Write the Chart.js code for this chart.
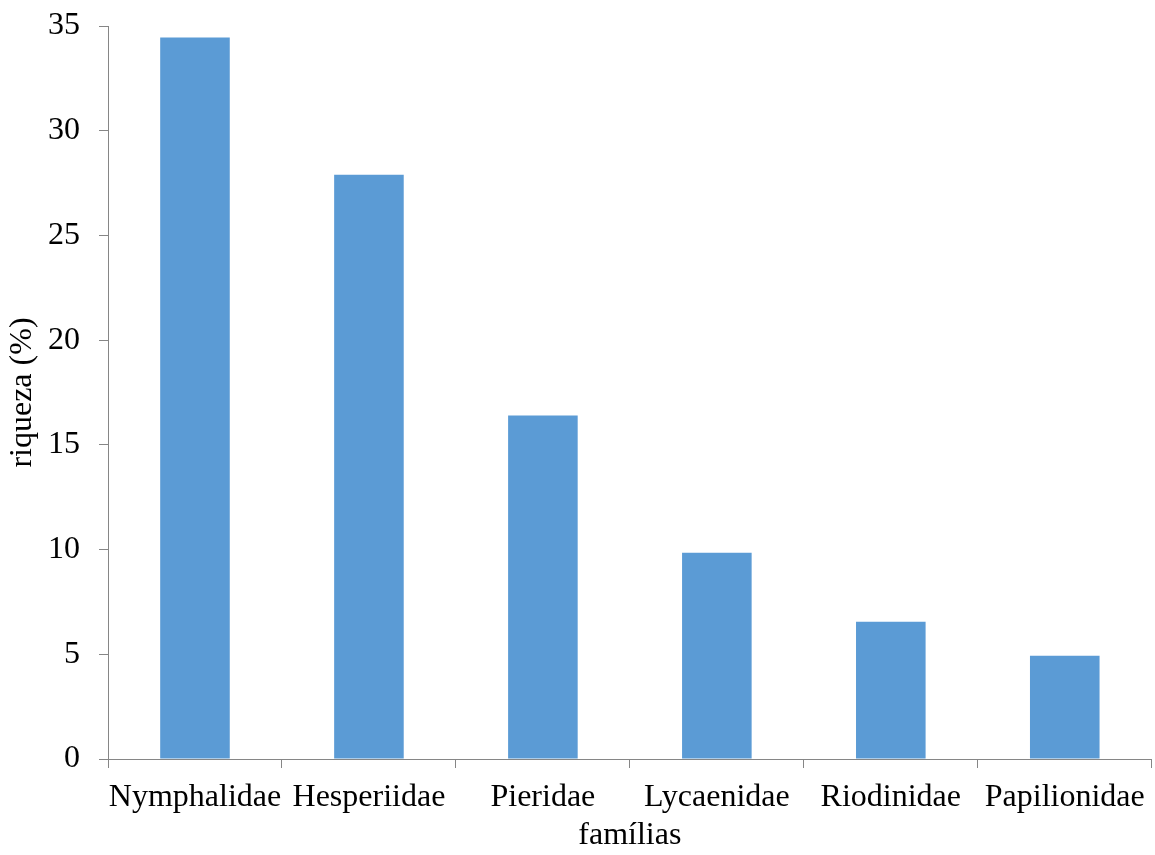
<!DOCTYPE html>
<html>
<head>
<meta charset="utf-8">
<script src="https://cdn.jsdelivr.net/npm/chart.js@4/dist/chart.umd.min.js"></script>
<style>
  html, body { margin: 0; padding: 0; background: #fff; }
  #wrap { width: 1155px; height: 855px; }
</style>
</head>
<body>
<div id="wrap"><canvas id="chartFamilias"></canvas></div>
<script>
// riqueza (%) por família de borboletas
const familias = ['Nymphalidae', 'Hesperiidae', 'Pieridae', 'Lycaenidae', 'Riodinidae', 'Papilionidae'];
const riqueza = [34.45, 27.9, 16.4, 9.85, 6.55, 4.93];
const yTicks = [0, 5, 10, 15, 20, 25, 30, 35];

const fonte = { family: '"Liberation Serif", "Times New Roman", serif', size: 32 };
const cinzaEixo = '#868686';

const ctx = document.getElementById('chartFamilias');
window._familiasChart = new Chart(ctx, {
  type: 'bar',
  data: {
    labels: familias,
    datasets: [{
      data: riqueza,
      backgroundColor: '#5b9bd5',
      borderWidth: 0,
      categoryPercentage: 0.4,
      barPercentage: 1,
    }],
  },
  options: {
    responsive: true,
    maintainAspectRatio: false,
    animation: false,
    layout: { padding: { left: 3, right: 3, top: 20, bottom: 0 } },
    plugins: {
      legend: { display: false },
      tooltip: { enabled: false },
    },
    scales: {
      x: {
        grid: {
          display: true,
          drawOnChartArea: false,
          drawTicks: true,
          tickLength: 9,
          color: cinzaEixo,
          offset: true,
        },
        border: { display: true, color: cinzaEixo, width: 1 },
        ticks: { color: '#000', font: fonte, padding: 10, maxRotation: 0, autoSkip: false },
        title: { display: true, text: 'famílias', color: '#000', font: fonte, padding: { top: 0, bottom: 0 } },
        afterFit: (axis) => { axis.height = 96; },
      },
      y: {
        min: 0,
        max: 35,
        afterBuildTicks: (axis) => { axis.ticks = yTicks.map((v) => ({ value: v })); },
        grid: {
          display: true,
          drawOnChartArea: false,
          drawTicks: true,
          tickLength: 9,
          color: cinzaEixo,
        },
        border: { display: true, color: cinzaEixo, width: 1 },
        ticks: { color: '#000', font: { ...fonte, lineHeight: 0.44 }, padding: 19 },
        title: { display: true, text: 'riqueza (%)', color: '#000', font: fonte, padding: 0 },
        afterFit: (axis) => { axis.width = 105; },
      },
    },
  },
});
</script>
</body>
</html>
